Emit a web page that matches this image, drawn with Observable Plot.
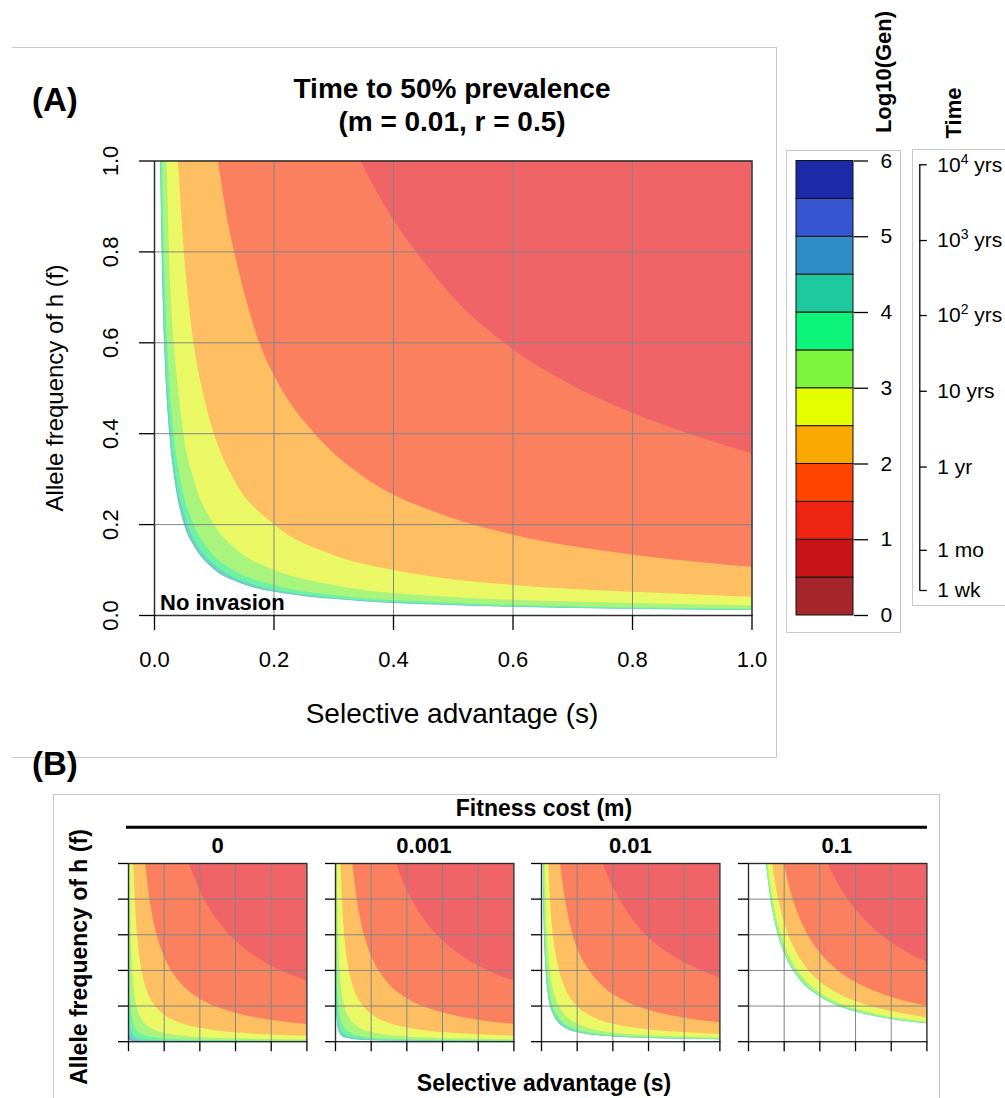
<!DOCTYPE html>
<html><head><meta charset="utf-8">
<script src="https://cdn.jsdelivr.net/npm/d3@7"></script>
<script src="https://cdn.jsdelivr.net/npm/@observablehq/plot@0.6"></script>
<style>
body{margin:0;background:#fff;}
#root{position:relative;width:1005px;height:1098px;overflow:hidden;background:#fff;font-family:"Liberation Sans",Arial,Helvetica,sans-serif;color:#000;}
</style></head><body><div id="root"></div>
<script>
// ---------------- data ----------------
// contour levels of log10(generations); region above/right of each boundary has logGen < level
const levels    = [5.5, 5, 4.5, 4, 3.5, 3, 2.5, 2, 1.5];
const levelFill = ["#8096e0","#7ab4dc","#66d8c0","#6cf2a2","#a9f47c","#ebf866","#fdbf62","#fb8060","#f06468"];

// boundary curves [s, f] per fitness cost m
const costM0 = [
 [5.5,[[0.00003,1],[0.0003,0.1],[0.003,0.01],[0.03,0.001],[0.3,0.0001],[1,0.00003]]],
 [5,  [[0.0001,1],[0.0003,0.33],[0.001,0.1],[0.003,0.033],[0.01,0.01],[0.033,0.003],[0.1,0.001],[0.33,0.0003],[1,0.0001]]],
 [4.5,[[0.0003,1],[0.0006,0.5],[0.0012,0.25],[0.003,0.1],[0.006,0.05],[0.012,0.025],[0.03,0.01],[0.1,0.003],[0.3,0.001],[1,0.0003]]],
 [4,  [[0.00095,1],[0.0019,0.5],[0.0038,0.25],[0.0095,0.1],[0.019,0.05],[0.038,0.025],[0.095,0.01],[0.3,0.0032],[1,0.00095]]],
 [3.5,[[0.003,1],[0.0045,0.667],[0.006,0.5],[0.012,0.25],[0.025,0.12],[0.05,0.06],[0.1,0.03],[0.2,0.015],[0.4,0.0075],[1,0.003]]],
 [3,  [[0.0095,1],[0.013,0.73],[0.019,0.5],[0.03,0.317],[0.05,0.19],[0.08,0.119],[0.12,0.079],[0.2,0.0475],[0.35,0.027],[0.6,0.0158],[1,0.0095]]],
 [2.5,[[0.03,1],[0.04,0.75],[0.05,0.6],[0.07,0.43],[0.1,0.3],[0.15,0.2],[0.2,0.15],[0.3,0.1],[0.45,0.067],[0.6,0.05],[0.8,0.0375],[1,0.03]]],
 [2,  [[0.096,1],[0.12,0.8],[0.15,0.64],[0.2,0.48],[0.25,0.384],[0.3,0.32],[0.4,0.24],[0.5,0.192],[0.6,0.16],[0.8,0.12],[1,0.096]]],
 [1.5,[[0.34,1],[0.4,0.85],[0.45,0.755],[0.5,0.68],[0.6,0.567],[0.7,0.486],[0.8,0.425],[0.9,0.378],[1,0.34]]]
];
const costM0001 = [
 [5,  [[0.0011,1],[0.002,0.55],[0.004,0.275],[0.008,0.1375],[0.02,0.055],[0.05,0.022],[0.15,0.0073],[0.4,0.0028],[1,0.0011]]],
 [4.5,[[0.0013,1],[0.002,0.65],[0.004,0.325],[0.008,0.163],[0.02,0.065],[0.05,0.026],[0.15,0.0087],[0.4,0.0033],[1,0.0013]]],
 [4,  [[0.002,1],[0.003,0.667],[0.005,0.4],[0.01,0.2],[0.02,0.1],[0.04,0.05],[0.1,0.02],[0.3,0.0067],[1,0.002]]],
 [3.5,[[0.004,1],[0.006,0.667],[0.01,0.4],[0.02,0.2],[0.04,0.1],[0.08,0.05],[0.15,0.0267],[0.3,0.0133],[0.6,0.0067],[1,0.004]]],
 [3,  [[0.0105,1],[0.014,0.75],[0.02,0.525],[0.03,0.35],[0.05,0.21],[0.08,0.131],[0.12,0.0875],[0.2,0.0525],[0.35,0.03],[0.6,0.0175],[1,0.0105]]],
 [2.5,[[0.031,1],[0.04,0.775],[0.05,0.62],[0.07,0.443],[0.1,0.31],[0.15,0.207],[0.2,0.155],[0.3,0.103],[0.45,0.069],[0.6,0.052],[0.8,0.039],[1,0.031]]],
 [2,  [[0.097,1],[0.12,0.81],[0.15,0.647],[0.2,0.485],[0.25,0.388],[0.3,0.323],[0.4,0.243],[0.5,0.194],[0.6,0.162],[0.8,0.121],[1,0.097]]],
 [1.5,[[0.341,1],[0.4,0.853],[0.45,0.758],[0.5,0.682],[0.6,0.568],[0.7,0.487],[0.8,0.426],[0.9,0.379],[1,0.341]]]
];
const costM001 = [
 [5,  [[0.0101,1],[0.0127,0.8],[0.0169,0.6],[0.0254,0.4],[0.034,0.3],[0.05,0.2],[0.069,0.147],[0.098,0.103],[0.147,0.069],[0.225,0.046],[0.345,0.031],[0.49,0.0218],[0.7,0.0154],[1,0.0108]]],
 [4.5,[[0.0104,1],[0.013,0.8],[0.0173,0.6],[0.026,0.4],[0.0347,0.3],[0.052,0.2],[0.071,0.147],[0.101,0.103],[0.151,0.069],[0.23,0.047],[0.35,0.0316],[0.5,0.0225],[0.7,0.016],[1,0.0113]]],
 [4,  [[0.0112,1],[0.014,0.8],[0.0187,0.6],[0.028,0.4],[0.0375,0.3],[0.056,0.2],[0.076,0.147],[0.112,0.1],[0.172,0.065],[0.26,0.0435],[0.4,0.0285],[0.6,0.0192],[0.8,0.0145],[1,0.0118]]],
 [3.5,[[0.0132,1],[0.0166,0.8],[0.022,0.6],[0.033,0.4],[0.044,0.3],[0.066,0.2],[0.09,0.146],[0.13,0.101],[0.2,0.066],[0.3,0.044],[0.5,0.027],[0.7,0.0193],[1,0.0137]]],
 [3,  [[0.021,1],[0.025,0.8],[0.033,0.6],[0.04,0.5],[0.049,0.4],[0.066,0.3],[0.1,0.2],[0.14,0.142],[0.2,0.1],[0.3,0.066],[0.48,0.041],[0.6,0.0335],[0.8,0.0265],[1,0.0213]]],
 [2.5,[[0.04,1],[0.05,0.8],[0.066,0.6],[0.08,0.5],[0.1,0.4],[0.133,0.3],[0.2,0.2],[0.3,0.132],[0.4,0.099],[0.48,0.082],[0.6,0.066],[0.8,0.051],[1,0.0403]]],
 [2,  [[0.107,1],[0.12,0.89],[0.134,0.8],[0.155,0.69],[0.176,0.6],[0.21,0.505],[0.265,0.405],[0.35,0.305],[0.48,0.222],[0.6,0.177],[0.8,0.133],[1,0.106]]],
 [1.5,[[0.345,1],[0.4,0.87],[0.45,0.78],[0.5,0.70],[0.6,0.585],[0.7,0.505],[0.8,0.445],[0.9,0.397],[1,0.356]]]
];
const costM01 = [
 [4.5,[[0.1002,1],[0.12,0.835],[0.15,0.668],[0.2,0.501],[0.25,0.401],[0.3,0.334],[0.4,0.2505],[0.5,0.2004],[0.6,0.167],[0.7,0.1431],[0.8,0.1252],[1,0.1002]]],
 [4,  [[0.1008,1],[0.12,0.84],[0.15,0.672],[0.2,0.504],[0.25,0.403],[0.3,0.336],[0.4,0.252],[0.5,0.2016],[0.6,0.168],[0.7,0.144],[0.8,0.126],[1,0.1008]]],
 [3.5,[[0.103,1],[0.12,0.858],[0.15,0.687],[0.2,0.515],[0.25,0.412],[0.3,0.343],[0.4,0.2575],[0.5,0.206],[0.6,0.172],[0.7,0.147],[0.8,0.129],[1,0.103]]],
 [3,  [[0.11,1],[0.13,0.846],[0.16,0.6875],[0.2,0.55],[0.25,0.44],[0.3,0.367],[0.4,0.275],[0.5,0.22],[0.6,0.183],[0.7,0.157],[0.8,0.1375],[1,0.11]]],
 [2.5,[[0.135,1],[0.16,0.844],[0.2,0.675],[0.25,0.54],[0.3,0.45],[0.4,0.338],[0.5,0.27],[0.6,0.225],[0.7,0.193],[0.8,0.169],[1,0.135]]],
 [2,  [[0.2,1],[0.25,0.8],[0.3,0.667],[0.35,0.571],[0.4,0.5],[0.5,0.4],[0.6,0.333],[0.7,0.286],[0.8,0.25],[0.9,0.222],[1,0.2]]],
 [1.5,[[0.445,1],[0.5,0.89],[0.55,0.81],[0.6,0.742],[0.7,0.636],[0.8,0.556],[0.9,0.494],[1,0.447]]]
];

const facetLabels = ["0", "0.001", "0.01", "0.1"];
const facetCurves = [costM0, costM0001, costM001, costM01];

const axisTicks = [0, 0.2, 0.4, 0.6, 0.8, 1.0];
const gridVals  = [0.2, 0.4, 0.6, 0.8];

const legendLo     = [0,0.5,1,1.5,2,2.5,3,3.5,4,4.5,5,5.5];
const legendColors = ["#a5262a","#c81418","#ee2412","#ff4400","#fba800","#e6ff00","#7df53c","#0df57a","#1ec99e","#2e8fc8","#3556d0","#1c2aa8"];
const legendTicks  = [0,1,2,3,4,5,6];

const timeLabels   = ["10^4 yrs","10^3 yrs","10^2 yrs","10 yrs","1 yr","1 mo","1 wk"];
const timeLog10Gen = [5.95, 4.95, 3.96, 2.96, 1.96, 0.86, 0.33];

// ---------------- layout ----------------
const FONT = '"Liberation Sans", Arial, Helvetica, sans-serif';
const root = document.getElementById("root");
function place(el, left, top){ el.style.position="absolute"; el.style.left=left+"px"; el.style.top=top+"px"; root.appendChild(el); return el; }
function box(l,t,w,h,sides){ const d=document.createElement("div"); d.style.cssText=`position:absolute;left:${l}px;top:${t}px;width:${w}px;height:${h}px;box-sizing:border-box;border:0 solid #c9c9c9;${sides}`; root.appendChild(d); }

box(12,47,765,711,"border-top-width:1px;border-right-width:1px;border-bottom-width:1px;");
box(53,794,887,330,"border-top-width:1px;border-left-width:1px;border-right-width:1px;");
box(786,150,115,483,"border-width:1px;");
box(912,149,120,457,"border-width:1px;");

function makePanel(curves, o){
  const marks = [];
  for (const [L, pts] of curves) {
    marks.push(Plot.areaY(pts, {x: d=>d[0], y1: d=>d[1], y2: 1, fill: levelFill[levels.indexOf(L)], curve: "monotone-x", clip: true}));
  }
  marks.push(Plot.ruleX(gridVals, {stroke: "#858585", strokeWidth: 1}));
  marks.push(Plot.ruleY(gridVals, {stroke: "#858585", strokeWidth: 1}));
  marks.push(Plot.frame({stroke: "#2e2e2e", strokeWidth: o.frameW}));
  marks.push(Plot.axisX({ticks: axisTicks, tickSize: o.tick, tickPadding: 21, fontSize: 22, label: null, strokeWidth: 1.3,
    tickFormat: o.labels ? d3.format(".1f") : () => ""}));
  marks.push(Plot.axisY({ticks: axisTicks, tickSize: o.tick, label: null, strokeWidth: 1.3, tickFormat: () => ""}));
  if (o.labels) marks.push(Plot.text(axisTicks, {x: 0, y: d=>d, text: d=>d3.format(".1f")(d), rotate: -90, dx: -44, fontSize: 22}));
  return Plot.plot({
    width: o.width, height: o.height,
    marginLeft: o.ml, marginRight: o.mr, marginTop: o.mt, marginBottom: o.mb,
    x: {domain: [0, 1]}, y: {domain: [0, 1]},
    style: {background: "transparent", overflow: "visible", fontFamily: FONT, color: "#000"},
    marks
  });
}

// Panel A (m = 0.01)
place(makePanel(costM001, {width: 780, height: 740, ml: 154, mr: 28.5, mt: 160.5, mb: 125, tick: 15, labels: true, frameW: 1.5}), 0, 0);

// Panel B facets
const bX0 = 128.3, bStep = 206.4, bW = 178.4, bTop = 862.5, bH = 178.2;
facetCurves.forEach((c, i) => {
  place(makePanel(c, {width: bW + 14, height: bH + 14, ml: 12, mr: 2, mt: 2, mb: 12, tick: 10, labels: false, frameW: 1.4}),
        bX0 + i*bStep - 12, bTop - 2);
});

// Colour bar
const bins = legendLo.map((lo, i) => ({lo, hi: lo + 0.5, color: legendColors[i]}));
place(Plot.plot({
  width: 115, height: 490, marginLeft: 10, marginRight: 48, marginTop: 20.5, marginBottom: 15,
  x: {domain: [0, 1], axis: null}, y: {domain: [0, 6]},
  style: {background: "transparent", overflow: "visible", fontFamily: FONT, color: "#000"},
  marks: [
    Plot.rect(bins, {x1: 0, x2: 1, y1: "lo", y2: "hi", fill: "color", stroke: "#111", strokeWidth: 1}),
    Plot.axisY({anchor: "right", ticks: legendTicks, tickSize: 14, tickPadding: 13, fontSize: 21, label: null, strokeWidth: 1.3, tickFormat: d => String(d)})
  ]
}), 786, 140);

// Time axis
const timeTicks = timeLabels.map((label, i) => ({label, v: timeLog10Gen[i]}));
const timeSvg = Plot.plot({
  width: 100, height: 490, marginLeft: 0, marginRight: 0, marginTop: 20.5, marginBottom: 15,
  x: {domain: [-14.3, 85.7], axis: null}, y: {domain: [0, 6], axis: null},
  style: {background: "transparent", overflow: "visible", fontFamily: FONT, color: "#000"},
  marks: [
    Plot.ruleX([0], {y1: d3.min(timeLog10Gen), y2: d3.max(timeLog10Gen), strokeWidth: 1.3}),
    Plot.ruleY(timeTicks, {y: "v", x1: 0, x2: 7.5, strokeWidth: 1.3}),
    Plot.text(timeTicks, {x: 0, y: "v", text: "label", dx: 17.5, textAnchor: "start", fontSize: 21})
  ]
});
timeSvg.querySelectorAll("text").forEach(t => {
  const s = t.textContent;
  const m = s.match(/^(\d+)\^(\d+)(.*)$/);
  if (!m) return;
  t.textContent = "";
  const ns = "http://www.w3.org/2000/svg";
  const a = document.createElementNS(ns, "tspan"); a.textContent = m[1]; t.appendChild(a);
  const b = document.createElementNS(ns, "tspan"); b.textContent = m[2]; b.setAttribute("dy", "-8"); b.setAttribute("font-size", "14"); t.appendChild(b);
  const c = document.createElementNS(ns, "tspan"); c.textContent = m[3]; c.setAttribute("dy", "8"); t.appendChild(c);
});
place(timeSvg, 905, 140);

// ---------------- text overlay ----------------
const texts = [
 {t:"(A)", x:32, y:111, s:33, w:"bold", a:"start"},
 {t:"Time to 50% prevalence", x:452, y:98, s:28, w:"bold"},
 {t:"(m = 0.01, r = 0.5)", x:452, y:131, s:28, w:"bold"},
 {t:"No invasion", x:160, y:610, s:22, w:"bold", a:"start"},
 {t:"Selective advantage (s)", x:452, y:723, s:28},
 {t:"Allele frequency of h (f)", x:63, y:388, s:24, r:-90},
 {t:"Log10(Gen)", x:891, y:72, s:22, w:"bold", r:-90},
 {t:"Time", x:961, y:113, s:22, w:"bold", r:-90},
 {t:"(B)", x:32, y:775, s:33, w:"bold", a:"start"},
 {t:"Fitness cost (m)", x:544, y:816, s:23, w:"bold"},
 {t:"Allele frequency of h (f)", x:86.5, y:957, s:23, w:"bold", r:-90},
 {t:"Selective advantage (s)", x:544, y:1091, s:23, w:"bold"}
];
facetLabels.forEach((lab, i) => texts.push({t: lab, x: bX0 + i*bStep + bW/2, y: 852.7, s: 22, w: "bold"}));

const ov = d3.create("svg").attr("width", 1005).attr("height", 1098)
  .style("position","absolute").style("left","0px").style("top","0px").style("pointer-events","none")
  .style("font-family", FONT);
ov.append("line").attr("x1", 126).attr("x2", 927).attr("y1", 827.3).attr("y2", 827.3).attr("stroke", "#000").attr("stroke-width", 3);
for (const d of texts) {
  const el = ov.append("text").text(d.t).attr("font-size", d.s).attr("font-weight", d.w || "normal")
    .attr("text-anchor", d.a === "start" ? "start" : "middle").attr("fill", "#000");
  if (d.r) el.attr("transform", `translate(${d.x},${d.y}) rotate(${d.r})`);
  else el.attr("x", d.x).attr("y", d.y);
}
root.appendChild(ov.node());
</script></body></html>
